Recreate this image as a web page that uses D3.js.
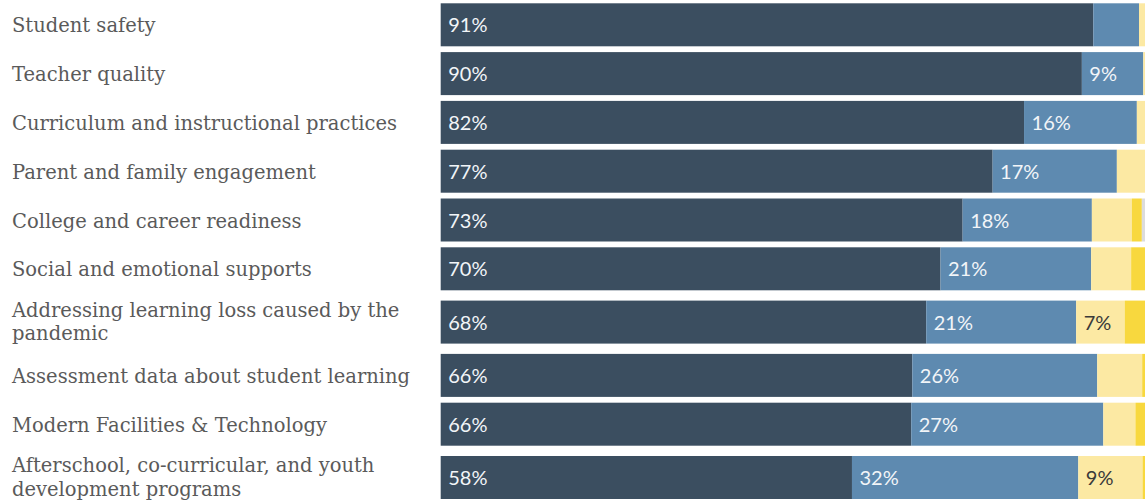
<!DOCTYPE html>
<html>
<head>
<meta charset="utf-8">
<script src="https://cdn.jsdelivr.net/npm/d3@7"></script>
<style>
  html, body { margin: 0; padding: 0; background: #ffffff; }
  svg { display: block; }
</style>
</head>
<body>
<svg id="chart" width="1145" height="501"></svg>
<script>
// ---- data (percent of respondents) ----
const categories = [
  "Student safety",
  "Teacher quality",
  "Curriculum and instructional practices",
  "Parent and family engagement",
  "College and career readiness",
  "Social and emotional supports",
  "Addressing learning loss caused by the pandemic",
  "Assessment data about student learning",
  "Modern Facilities & Technology",
  "Afterschool, co-curricular, and youth development programs"
];
const seriesKeys = ["Very important", "Somewhat important", "Not too important", "Not at all important", "Not sure"];
const veryImportant     = [91.4, 89.8, 81.7, 77.3, 73.1, 70.0, 68.0, 66.05, 65.9, 57.6];
const somewhatImportant = [6.4, 8.6, 15.8, 17.4, 18.1, 21.1, 21.0, 25.9, 26.9, 31.7];
const notTooImportant   = [1.5, 1.2, 1.8, 4.3, 5.6, 5.6, 6.8, 6.3, 4.5, 9.0];
const notAtAllImportant = [0.5, 0.4, 0.7, 1.0, 1.4, 2.5, 3.2, 1.2, 2.0, 1.2];
const notSure           = [0.2, 0.0, 0.0, 0.0, 1.8, 0.8, 1.0, 0.55, 0.7, 0.5];
const seriesColors = ["#3b4e60", "#5e8ab0", "#fce9a3", "#f8d83e", "#dcdcdc"];
const labelColors  = ["#f2f5f8", "#f2f5f8", "#3a3a3a", "#3a3a3a", "#3a3a3a"];

// ---- build table ----
const seriesArrays = [veryImportant, somewhatImportant, notTooImportant, notAtAllImportant, notSure];
const table = categories.map((c, i) => {
  const row = { category: c };
  seriesKeys.forEach((k, j) => row[k] = seriesArrays[j][i]);
  return row;
});
const stacked = d3.stack().keys(seriesKeys)(table);

const svg = d3.select("#chart");
const x = d3.scaleLinear().domain([0, 100]).range([440.7, 1154.7]);

// ---- category labels (wrapped) ----
const labelFont = "'DejaVu Serif', serif";
const labelSize = 19.5;
const lineH = 23.5;
const wrapWidth = 420;

const labelG = svg.append("g");
const labels = labelG.selectAll("text").data(categories).join("text")
  .attr("x", 12)
  .attr("fill", "#5a5a5a")
  .style("font-family", labelFont)
  .style("font-size", labelSize + "px");

const lineCounts = [];
labels.each(function(d) {
  const t = d3.select(this);
  const words = d.split(/\s+/);
  let line = [];
  let lines = [];
  const probe = t.append("tspan");
  words.forEach(w => {
    const test = line.concat([w]).join(" ");
    probe.text(test);
    if (probe.node().getComputedTextLength() > wrapWidth && line.length) {
      lines.push(line.join(" "));
      line = [w];
    } else {
      line.push(w);
    }
  });
  lines.push(line.join(" "));
  probe.remove();
  lines.forEach((l, k) => t.append("tspan").attr("x", 12).attr("data-k", k).text(l));
  lineCounts.push(lines.length);
});

// ---- variable row layout ----
const barH = 43, gap = 5.8, startY = 3.3;
const rowH = lineCounts.map(n => n > 1 ? 52 : barH);
const centers = [];
let acc = startY;
rowH.forEach(h => { centers.push(acc + h / 2); acc += h + gap; });
const y = d3.scaleOrdinal().domain(categories).range(centers);

labels.each(function(d, i) {
  const n = lineCounts[i];
  d3.select(this).selectAll("tspan")
    .attr("y", function() {
      const k = +this.getAttribute("data-k");
      return y(d) + (n > 1 ? 6.5 : 7.5) + (k - (n - 1) / 2) * lineH;
    });
});

// ---- bars ----
const layers = svg.append("g").selectAll("g").data(stacked).join("g")
  .attr("fill", (d, i) => seriesColors[i]);
layers.selectAll("rect").data(d => d).join("rect")
  .attr("x", d => x(d[0]))
  .attr("y", d => y(d.data.category) - barH / 2)
  .attr("width", d => Math.max(0, x(d[1]) - x(d[0])))
  .attr("height", barH);

// ---- value labels ----
const fmt = v => Math.round(v) + "%";
const valG = svg.append("g")
  .style("font-family", "Lato, 'Open Sans', sans-serif")
  .style("font-size", "20px");
stacked.forEach((layer, i) => {
  valG.selectAll(null).data(layer.filter(d => Math.round(d[1] - d[0]) >= 7)).join("text")
    .attr("x", d => x(d[0]) + 7.5)
    .attr("y", d => y(d.data.category) + 7.5)
    .attr("fill", labelColors[i])
    .text(d => fmt(d[1] - d[0]));
});
</script>
</body>
</html>
